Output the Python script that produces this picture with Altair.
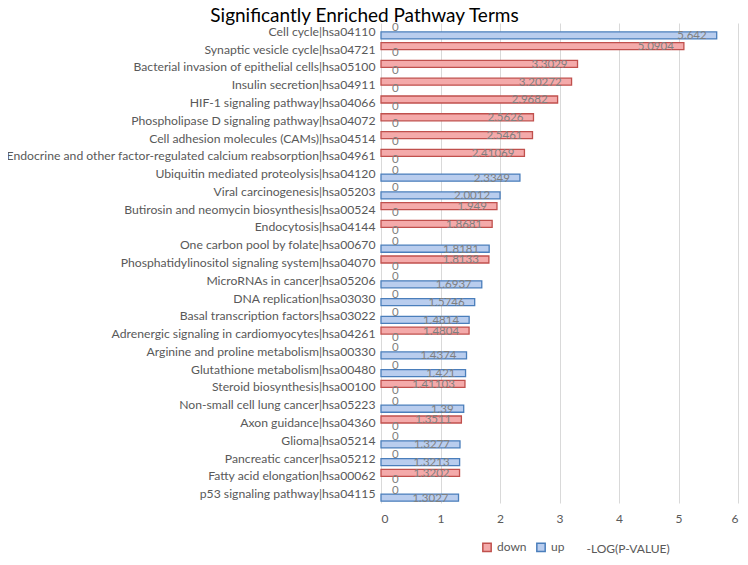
import altair as alt
import pandas as pd

categories = [
    "Cell cycle|hsa04110",
    "Synaptic vesicle cycle|hsa04721",
    "Bacterial invasion of epithelial cells|hsa05100",
    "Insulin secretion|hsa04911",
    "HIF-1 signaling pathway|hsa04066",
    "Phospholipase D signaling pathway|hsa04072",
    "Cell adhesion molecules (CAMs)|hsa04514",
    "Endocrine and other factor-regulated calcium reabsorption|hsa04961",
    "Ubiquitin mediated proteolysis|hsa04120",
    "Viral carcinogenesis|hsa05203",
    "Butirosin and neomycin biosynthesis|hsa00524",
    "Endocytosis|hsa04144",
    "One carbon pool by folate|hsa00670",
    "Phosphatidylinositol signaling system|hsa04070",
    "MicroRNAs in cancer|hsa05206",
    "DNA replication|hsa03030",
    "Basal transcription factors|hsa03022",
    "Adrenergic signaling in cardiomyocytes|hsa04261",
    "Arginine and proline metabolism|hsa00330",
    "Glutathione metabolism|hsa00480",
    "Steroid biosynthesis|hsa00100",
    "Non-small cell lung cancer|hsa05223",
    "Axon guidance|hsa04360",
    "Glioma|hsa05214",
    "Pancreatic cancer|hsa05212",
    "Fatty acid elongation|hsa00062",
    "p53 signaling pathway|hsa04115",
]
down_vals = [0, 5.0904, 3.3029, 3.20272, 2.9682, 2.5626, 2.5461, 2.41069, 0, 0,
             1.949, 1.8681, 0, 1.8133, 0, 0, 0, 1.4804, 0, 0,
             1.41103, 0, 1.3511, 0, 0, 1.3202, 0]
up_vals = [5.642, 0, 0, 0, 0, 0, 0, 0, 2.3349, 2.0012,
           0, 0, 1.8181, 0, 1.6937, 1.5746, 1.4814, 0, 1.4374, 1.421,
           0, 1.39, 0, 1.3277, 1.3213, 0, 1.3027]
series = ["down", "up"]
x_ticks = [0, 1, 2, 3, 4, 5, 6]
title_text = "Significantly Enriched Pathway Terms"
x_title = "-LOG(P-VALUE)"

rows = []
for c, d, u in zip(categories, down_vals, up_vals):
    rows.append({"category": c, "series": "down", "value": d, "label": f"{d:g}"})
    rows.append({"category": c, "series": "up", "value": u, "label": f"{u:g}"})
df = pd.DataFrame(rows)

FONT = "Lato"
GRAY = "#595959"

y_enc = alt.Y(
    "category:N", sort=categories,
    scale=alt.Scale(paddingInner=0.21, paddingOuter=0.105),
    axis=alt.Axis(title=None, ticks=False, domain=False, labelFont=FONT,
                  labelFontSize=12.2, labelColor=GRAY, labelLimit=420,
                  labelPadding=6),
)
yoff_enc = alt.YOffset("series:N", sort=series,
                       scale=alt.Scale(domain=series, paddingInner=0, paddingOuter=0))
x_enc = alt.X(
    "value:Q", scale=alt.Scale(domain=[0, 6], nice=False),
    axis=alt.Axis(values=x_ticks, grid=True, gridColor="#D9D9D9", ticks=False,
                  domain=False, labelFont=FONT, labelFontSize=12, labelColor=GRAY,
                  labelPadding=10, title=x_title, titleFont=FONT,
                  titleFontSize=12, titleFontWeight="normal", titleColor=GRAY,
                  titleX=205, titleY=45, titleAlign="left",
                  titleBaseline="middle"),
)

legend = alt.Legend(title=None, orient="none", legendX=100, legendY=518,
                    direction="horizontal", symbolType="square", symbolSize=70,
                    symbolStrokeWidth=1.5, labelFont=FONT, labelFontSize=12,
                    labelColor=GRAY, columnPadding=6, labelOffset=4)

bars = alt.Chart(df).transform_filter("datum.value > 0").mark_bar(
    strokeWidth=1.3
).encode(
    y=y_enc, yOffset=yoff_enc, x=x_enc,
    fill=alt.Fill("series:N", scale=alt.Scale(domain=series,
                  range=["#F4AAAA", "#B9CDEE"]), legend=legend),
    stroke=alt.Stroke("series:N", scale=alt.Scale(domain=series,
                      range=["#C0504D", "#4A7EBB"]), legend=legend),
)

labels = alt.Chart(df).transform_filter("datum.value > 0").mark_text(
    align="right", baseline="middle", dx=-10, dy=1, font=FONT, fontSize=11.5,
    color="#808080"
).encode(y=y_enc, yOffset=yoff_enc, x=x_enc, text="label:N")

zeros = alt.Chart(df).transform_filter("datum.value == 0").mark_text(
    align="left", baseline="middle", dx=11, dy=0, font=FONT, fontSize=11.5,
    color="#808080"
).encode(y=y_enc, yOffset=yoff_enc, x=x_enc, text="label:N")

chart = alt.layer(bars, labels, zeros).properties(
    width=357, height=480,
    autosize=alt.AutoSizeParams(type="none"),
    padding={"left": 373, "top": 15, "right": 2, "bottom": 54},
    title=alt.Title(title_text, anchor="middle", frame="group", dx=-195,
                    dy=6, font=FONT, fontSize=19, fontWeight="normal",
                    color="black", offset=2),
).configure_view(stroke=None).configure_axis(labelFont=FONT)

chart.save("out.html", embed_options={"renderer": "svg", "actions": False})
